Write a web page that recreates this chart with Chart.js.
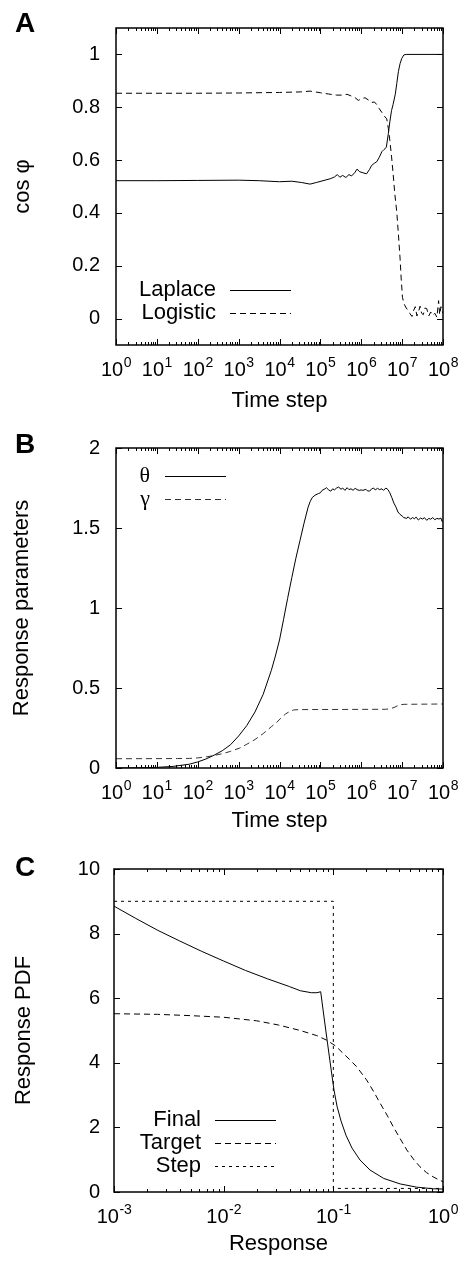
<!DOCTYPE html>
<html>
<head>
<meta charset="utf-8">
<script src="https://cdn.jsdelivr.net/npm/chart.js@4.4.1/dist/chart.umd.min.js"></script>
<style>
  html, body { margin: 0; padding: 0; background: #fff; }
  #wrap { position: relative; width: 465px; height: 1267px; }
  canvas { position: absolute; left: 0; }
</style>
</head>
<body>
<div id="wrap">
  <canvas id="chartA" width="465" height="420" style="top:0"></canvas>
  <canvas id="chartB" width="465" height="420" style="top:420px"></canvas>
  <canvas id="chartC" width="465" height="427" style="top:840px"></canvas>
</div>
<script>
// ---- panel A: cos phi vs time step ----
const timeDecades = [1, 1e1, 1e2, 1e3, 1e4, 1e5, 1e6, 1e7, 1e8];
const cosTicks = [0, 0.2, 0.4, 0.6, 0.8, 1];

const laplaceT = [1, 10, 100, 1e3, 3.2e3, 1e4, 2e4, 3.5e4, 5.6e4, 7.9e4, 1.3e5, 1.8e5, 2.2e5, 2.6e5, 3e5,
  3.5e5, 4.2e5, 5e5, 5.8e5, 6.9e5, 7.9e5, 9.1e5, 1.1e6, 1.35e6, 1.6e6, 1.8e6, 2.1e6, 2.4e6, 2.75e6, 3.2e6,
  3.6e6, 4.1e6, 4.6e6, 5e6, 5.5e6, 6e6, 6.8e6, 7.4e6, 8.1e6, 8.9e6, 9.8e6, 1.1e7, 1.26e7, 1e8];
const laplaceCos = [0.522, 0.522, 0.523, 0.524, 0.522, 0.518, 0.52, 0.515, 0.509, 0.515, 0.524, 0.53, 0.536, 0.545, 0.535,
  0.542, 0.534, 0.545, 0.54, 0.552, 0.566, 0.556, 0.552, 0.548, 0.565, 0.58, 0.588, 0.594, 0.61, 0.632,
  0.64, 0.648, 0.70, 0.745, 0.787, 0.81, 0.849, 0.89, 0.935, 0.965, 0.985, 0.998, 1.0, 1.0];

const logisticT = [1, 100, 1e3, 1e4, 3.2e4, 5.6e4, 1e5, 1.6e5, 2.5e5, 3.5e5, 4.5e5, 5.6e5, 7.1e5, 8.5e5, 1e6,
  1.23e6, 1.48e6, 1.8e6, 2.1e6, 2.4e6, 2.75e6, 3.2e6, 3.6e6, 4.2e6, 4.6e6, 5e6, 5.5e6, 6e6, 6.6e6, 7.4e6,
  8.1e6, 8.9e6, 9.5e6, 1.02e7, 1.12e7, 1.26e7, 1.41e7, 1.55e7, 1.74e7, 1.9e7, 2.1e7, 2.3e7, 2.5e7, 2.75e7, 3e7,
  3.3e7, 3.6e7, 4e7, 4.5e7, 5e7, 5.6e7, 6.3e7, 7.1e7, 7.8e7, 8.3e7, 8.9e7, 1e8];
const logisticCos = [0.853, 0.853, 0.854, 0.856, 0.858, 0.861, 0.855, 0.85, 0.846, 0.846, 0.849, 0.843, 0.836, 0.826, 0.832,
  0.836, 0.828, 0.818, 0.82, 0.81, 0.795, 0.78, 0.768, 0.756, 0.72, 0.675, 0.615, 0.551, 0.475, 0.403,
  0.32, 0.229, 0.15, 0.08, 0.055, 0.04, 0.03, 0.019, 0.008, 0.03, 0.045, 0.01, 0.025, 0.047, 0.02,
  0.015, 0.04, 0.038, 0.01, 0.025, 0.012, 0.02, 0.005, 0.068, 0.015, 0.045, 0.02];

// ---- panel B: response parameters vs time step ----
const paramTicks = [0, 0.5, 1, 1.5, 2];

const thetaT = [1, 3.2, 10, 25, 63, 100, 158, 251, 398, 631, 1e3, 1.58e3, 2.51e3, 3.98e3, 6.31e3, 7.94e3, 1e4,
  1.26e4, 1.58e4, 2e4, 2.51e4, 3.16e4, 3.98e4, 5.01e4, 5.62e4, 6.31e4, 7.41e4, 8.91e4,
  1e5, 1.1e5, 1.3e5, 1.4e5, 1.6e5, 1.8e5, 2e5, 2.2e5, 2.5e5, 2.8e5, 3.2e5, 3.5e5, 4e5, 4.5e5, 5e5, 5.6e5, 6.3e5, 7.1e5, 7.9e5, 8.9e5,
  1e6, 1.1e6, 1.3e6, 1.4e6, 1.6e6, 1.8e6, 2e6, 2.2e6, 2.5e6, 2.8e6, 3.2e6, 3.5e6, 4e6, 4.5e6, 5e6, 5.6e6, 6.3e6, 7.1e6, 7.9e6, 8.9e6,
  1e7, 1.1e7, 1.3e7, 1.4e7, 1.6e7, 1.8e7, 2e7, 2.2e7, 2.5e7, 2.8e7, 3.2e7, 3.5e7, 4e7, 4.5e7, 5e7, 5.6e7, 6.3e7, 7.1e7, 7.9e7, 8.9e7,
  9.5e7, 1e8];
const thetaV = [0, 0.001, 0.004, 0.01, 0.024, 0.038, 0.056, 0.08, 0.108, 0.145, 0.2, 0.265, 0.35, 0.46, 0.61, 0.70, 0.80,
  0.93, 1.06, 1.19, 1.31, 1.42, 1.53, 1.63, 1.665, 1.69, 1.705, 1.715,
  1.72, 1.735, 1.745, 1.752, 1.738, 1.73, 1.745, 1.738, 1.75, 1.756, 1.742, 1.75, 1.735, 1.752, 1.74, 1.745, 1.736, 1.748, 1.74, 1.735,
  1.738, 1.735, 1.742, 1.733, 1.73, 1.745, 1.75, 1.738, 1.748, 1.74, 1.745, 1.735, 1.75, 1.74, 1.72, 1.69, 1.655, 1.63, 1.6, 1.585,
  1.575, 1.565, 1.56, 1.57, 1.555, 1.565, 1.558, 1.568, 1.55, 1.562, 1.556, 1.565, 1.548, 1.56, 1.555, 1.565, 1.552, 1.56, 1.556, 1.562,
  1.54, 1.545];

const gammaT = [1, 32, 63, 100, 166, 251, 427, 631, 1.07e3, 1.58e3, 2.51e3, 3.98e3, 6.31e3, 8.51e3, 1.12e4, 1.41e4, 1.82e4,
  2.24e4, 3.16e4, 3.98e6, 5.01e6, 6.31e6, 7.94e6, 9.33e6, 1.12e7, 1e8];
const gammaV = [0.058, 0.059, 0.06, 0.063, 0.07, 0.078, 0.091, 0.104, 0.125, 0.148, 0.178, 0.215, 0.258, 0.285, 0.315, 0.338, 0.355,
  0.363, 0.365, 0.367, 0.37, 0.378, 0.39, 0.396, 0.398, 0.4];

// ---- panel C: response PDFs ----
const respDecades = [1e-3, 1e-2, 1e-1, 1];
const pdfTicks = [0, 2, 4, 6, 8, 10];

const finalR = [0.001, 0.00158, 0.00251, 0.00398, 0.00631, 0.01, 0.0158, 0.0251, 0.0398, 0.0501, 0.0631, 0.0708, 0.0767,
  0.0822, 0.0885, 0.0953, 0.1014, 0.108, 0.1175, 0.1303, 0.148, 0.175, 0.216, 0.288, 0.407, 0.575, 0.813, 1];
const finalPdf = [8.85, 8.47, 8.1, 7.77, 7.45, 7.15, 6.86, 6.6, 6.36, 6.23, 6.17, 6.17, 6.2,
  5.42, 4.61, 3.81, 3.16, 2.66, 2.2, 1.76, 1.36, 0.99, 0.68, 0.42, 0.25, 0.15, 0.1, 0.09];

const targetR = [0.001, 0.0025, 0.005, 0.01, 0.02, 0.0316, 0.05, 0.0708, 0.087, 0.105, 0.123, 0.141, 0.163,
  0.201, 0.234, 0.267, 0.309, 0.352, 0.407, 0.468, 0.537, 0.617, 0.708, 0.813, 0.912, 1];
const targetPdf = [5.52, 5.5, 5.46, 5.41, 5.3, 5.17, 5.0, 4.84, 4.7, 4.52, 4.29, 4.1, 3.88,
  3.47, 3.1, 2.75, 2.38, 2.02, 1.65, 1.30, 1.02, 0.78, 0.6, 0.47, 0.38, 0.32];

const stepR = [0.001, 0.1, 0.1, 1];
const stepPdf = [9, 9, 0.111, 0.111];

const FONT = '"Liberation Sans", Arial, Helvetica, sans-serif';
Chart.defaults.font.family = FONT;
Chart.defaults.color = '#000';

const pts = (xs, ys) => xs.map((x, i) => ({x: x, y: ys[i]}));

// gnuplot-style box: inward ticks on all four sides, 10^n labels, key and panel letter
const gnuplotFrame = {
  id: 'gnuplotFrame',
  afterDraw(chart, args, opts) {
    const {ctx, chartArea: a} = chart;
    const x = chart.scales.x, y = chart.scales.y;
    ctx.save();
    ctx.strokeStyle = '#000';
    ctx.lineWidth = 1;
    ctx.beginPath();
    const decades = x.ticks.map(t => t.value);
    decades.forEach((v, i) => {
      const px = Math.round(x.getPixelForValue(v)) + 0.5;
      ctx.moveTo(px, a.bottom); ctx.lineTo(px, a.bottom - 6);
      ctx.moveTo(px, a.top); ctx.lineTo(px, a.top + 6);
      if (i < decades.length - 1) {
        for (let m = 2; m < 10; m++) {
          const pm = Math.round(x.getPixelForValue(v * m)) + 0.5;
          ctx.moveTo(pm, a.bottom); ctx.lineTo(pm, a.bottom - 3);
          ctx.moveTo(pm, a.top); ctx.lineTo(pm, a.top + 3);
        }
      }
    });
    y.ticks.forEach(t => {
      const py = Math.round(y.getPixelForValue(t.value)) + 0.5;
      ctx.moveTo(a.left, py); ctx.lineTo(a.left + 6, py);
      ctx.moveTo(a.right, py); ctx.lineTo(a.right - 6, py);
    });
    ctx.stroke();
    ctx.lineWidth = 1.5;
    ctx.strokeRect(a.left, a.top, a.right - a.left, a.bottom - a.top);

    // x tick labels with raised exponent
    ctx.fillStyle = '#000';
    ctx.textBaseline = 'alphabetic';
    ctx.textAlign = 'left';
    const base = a.bottom + 31;
    decades.forEach(v => {
      const px = x.getPixelForValue(v);
      const e = String(Math.round(Math.log10(v)));
      ctx.font = '20px ' + FONT;
      const wb = ctx.measureText('10').width;
      ctx.font = '14px ' + FONT;
      const we = ctx.measureText(e).width;
      const left = px - (wb + we) / 2;
      ctx.font = '20px ' + FONT;
      ctx.fillText('10', left, base);
      ctx.font = '14px ' + FONT;
      ctx.fillText(e, left + wb + 0.5, base - 9);
    });

    // key: label right-aligned, then a sample of the line
    const lg = opts.key;
    chart.data.datasets.forEach((ds, i) => {
      const cy = lg.y + i * lg.gap;
      ctx.font = lg.font || ('22px ' + FONT);
      ctx.textAlign = 'right';
      ctx.textBaseline = 'middle';
      ctx.fillText(ds.label, lg.x, cy);
      ctx.setLineDash(ds.borderDash || []);
      ctx.strokeStyle = ds.borderColor;
      ctx.lineWidth = 1;
      ctx.beginPath();
      ctx.moveTo(lg.x1, Math.round(cy) + 0.5);
      ctx.lineTo(lg.x2, Math.round(cy) + 0.5);
      ctx.stroke();
    });
    ctx.setLineDash([]);

    ctx.font = 'bold 28px ' + FONT;
    ctx.textAlign = 'left';
    ctx.textBaseline = 'alphabetic';
    ctx.fillText(opts.letter, 15, opts.letterY);
    ctx.restore();
  }
};

function makeChart(id, c) {
  return new Chart(document.getElementById(id), {
    type: 'line',
    data: {datasets: c.datasets},
    options: {
      responsive: false,
      animation: false,
      events: [],
      layout: {padding: {top: c.top, right: 22, bottom: 0, left: 0}},
      elements: {point: {radius: 0}, line: {tension: 0, borderWidth: 1}},
      plugins: {
        legend: {display: false},
        tooltip: {enabled: false},
        gnuplotFrame: {key: c.key, letter: c.letter, letterY: c.letterY}
      },
      scales: {
        x: {
          type: 'logarithmic', min: c.xMin, max: c.xMax,
          afterBuildTicks: s => { s.ticks = c.xTicks.map(v => ({value: v})); },
          afterFit: s => { s.height = c.xHeight; },
          ticks: {display: false},
          grid: {display: false, drawTicks: false},
          border: {display: false},
          title: {display: true, text: c.xTitle, font: {size: 22}, padding: {top: 0, bottom: c.xTitlePad}}
        },
        y: {
          min: c.yMin, max: c.yMax,
          afterBuildTicks: s => { s.ticks = c.yTicks.map(v => ({value: v})); },
          afterFit: s => { s.width = c.yWidth; },
          ticks: {padding: c.yTickPad, font: {size: 20}, callback: v => String(v)},
          grid: {display: false, drawTicks: false},
          border: {display: false},
          title: {display: true, text: c.yTitle, font: {size: 22}, padding: {top: c.yTitlePad, bottom: 0}}
        }
      }
    },
    plugins: [gnuplotFrame]
  });
}

makeChart('chartA', {
  datasets: [
    {label: 'Laplace', data: pts(laplaceT, laplaceCos), borderColor: '#000'},
    {label: 'Logistic', data: pts(logisticT, logisticCos), borderColor: '#000', borderDash: [6, 4]}
  ],
  top: 23, xHeight: 75, yWidth: 116, yTickPad: 16, xTitlePad: 6, yTitlePad: 10,
  xMin: 1, xMax: 1e8, xTicks: timeDecades, xTitle: 'Time step',
  yMin: -0.1, yMax: 1.1, yTicks: cosTicks, yTitle: 'cos φ',
  key: {x: 216, y: 289.5, gap: 23, x1: 230, x2: 291},
  letter: 'A', letterY: 32
});

makeChart('chartB', {
  datasets: [
    {label: 'θ', data: pts(thetaT, thetaV), borderColor: '#000'},
    {label: 'γ', data: pts(gammaT, gammaV), borderColor: '#333', borderDash: [6, 4]}
  ],
  top: 25, xHeight: 72, yWidth: 116, yTickPad: 16, xTitlePad: 6, yTitlePad: 9,
  xMin: 1, xMax: 1e8, xTicks: timeDecades, xTitle: 'Time step',
  yMin: 0, yMax: 2, yTicks: paramTicks, yTitle: 'Response parameters',
  key: {x: 150, y: 56, gap: 23, x1: 165, x2: 226, font: '22px "Liberation Serif", "DejaVu Serif", serif'},
  letter: 'B', letterY: 33
});

makeChart('chartC', {
  datasets: [
    {label: 'Final', data: pts(finalR, finalPdf), borderColor: '#000'},
    {label: 'Target', data: pts(targetR, targetPdf), borderColor: '#000', borderDash: [6, 4]},
    {label: 'Step', data: pts(stepR, stepPdf), borderColor: '#000', borderDash: [3, 4]}
  ],
  top: 29, xHeight: 75, yWidth: 114, yTickPad: 14, xTitlePad: 10, yTitlePad: 11,
  xMin: 1e-3, xMax: 1, xTicks: respDecades, xTitle: 'Response',
  yMin: 0, yMax: 10, yTicks: pdfTicks, yTitle: 'Response PDF',
  key: {x: 201, y: 279.5, gap: 23, x1: 215, x2: 276},
  letter: 'C', letterY: 36
});
</script>
</body>
</html>
